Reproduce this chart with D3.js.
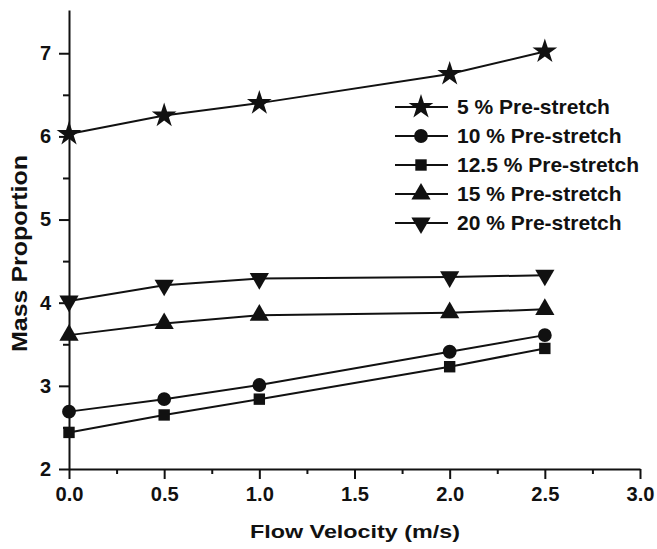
<!DOCTYPE html>
<html>
<head>
<meta charset="utf-8">
<script src="https://cdn.jsdelivr.net/npm/d3@7"></script>
<style>
  body { margin: 0; background: #fff; }
  text { font-family: "Liberation Sans", Arial, sans-serif; font-weight: bold; fill: #111; }
  .axis path, .axis line { stroke: #111; stroke-width: 2; }
</style>
</head>
<body>
<div class="chart"></div>
<script>
// data
var velocity = [0, 0.5, 1.0, 2.0, 2.5];
var pre5 = [6.03, 6.25, 6.40, 6.75, 7.02];
var pre10 = [2.69, 2.84, 3.01, 3.41, 3.61];
var pre125 = [2.44, 2.65, 2.84, 3.23, 3.45];
var pre15 = [3.61, 3.75, 3.85, 3.88, 3.92];
var pre20 = [4.02, 4.21, 4.29, 4.31, 4.33];
var seriesNames = ["5 % Pre-stretch", "10 % Pre-stretch", "12.5 % Pre-stretch", "15 % Pre-stretch", "20 % Pre-stretch"];
var xTicks = [0, 0.5, 1.0, 1.5, 2.0, 2.5, 3.0];
var yTicks = [2, 3, 4, 5, 6, 7];

var svgWidth = 657;
var svgHeight = 549;

var margin = { top: 10, right: 17, bottom: 80, left: 69 };
var width = svgWidth - margin.left - margin.right;
var height = svgHeight - margin.top - margin.bottom;

var svg = d3.select(".chart")
  .append("svg")
  .attr("width", svgWidth)
  .attr("height", svgHeight);

var chartGroup = svg.append("g")
  .attr("transform", `translate(${margin.left}, ${margin.top})`);

var xScale = d3.scaleLinear().domain([0, 3]).range([0, width]);
var yScale = d3.scaleLinear().domain([2, 7.52]).range([height, 0]);

// minor ticks
chartGroup.append("g")
  .attr("class", "axis")
  .attr("transform", `translate(0, ${height})`)
  .call(d3.axisBottom(xScale).tickValues(d3.range(0.25, 3, 0.5)).tickSize(5).tickFormat(""))
  .select(".domain").remove();
chartGroup.append("g")
  .attr("class", "axis")
  .call(d3.axisLeft(yScale).tickValues(d3.range(2.5, 7.5, 1)).tickSize(6).tickFormat(""))
  .select(".domain").remove();

// major axes
var xAxis = chartGroup.append("g")
  .attr("class", "axis")
  .attr("transform", `translate(0, ${height})`)
  .call(d3.axisBottom(xScale).tickValues(xTicks).tickSize(10).tickSizeOuter(0).tickPadding(8).tickFormat(d3.format(".1f")));
xAxis.selectAll("text").style("font-size", "20px").attr("textLength", 28).attr("lengthAdjust", "spacingAndGlyphs");

var yAxis = chartGroup.append("g")
  .attr("class", "axis")
  .call(d3.axisLeft(yScale).tickValues(yTicks).tickSize(10).tickSizeOuter(0).tickPadding(8).tickFormat(d3.format("d")));
yAxis.selectAll("text").style("font-size", "20px");

// series
var allSeries = [pre5, pre10, pre125, pre15, pre20];
var symbols = [
  { type: d3.symbolStar, size: 190, rot: 0 },
  { type: d3.symbolCircle, size: 150, rot: 0 },
  { type: d3.symbolSquare, size: 130, rot: 0 },
  { type: d3.symbolTriangle, size: 160, rot: 0 },
  { type: d3.symbolTriangle, size: 160, rot: 180 }
];

var line = d3.line()
  .x((d, i) => xScale(velocity[i]))
  .y(d => yScale(d));

allSeries.forEach(function (values, k) {
  chartGroup.append("path")
    .attr("d", line(values))
    .attr("fill", "none")
    .attr("stroke", "#111")
    .attr("stroke-width", 2);

  chartGroup.selectAll(".pt" + k)
    .data(values)
    .enter()
    .append("path")
    .attr("d", d3.symbol().type(symbols[k].type).size(symbols[k].size))
    .attr("transform", (d, i) => `translate(${xScale(velocity[i])}, ${yScale(d)}) rotate(${symbols[k].rot})`)
    .attr("fill", "#111");
});

// legend
var legend = svg.append("g").attr("transform", "translate(395, 107)");
seriesNames.forEach(function (name, k) {
  var row = legend.append("g").attr("transform", `translate(0, ${k * 29})`);
  row.append("line")
    .attr("x1", 0).attr("x2", 53)
    .attr("stroke", "#111").attr("stroke-width", 2);
  row.append("path")
    .attr("d", d3.symbol().type(symbols[k].type).size(symbols[k].size))
    .attr("transform", `translate(26, 0) rotate(${symbols[k].rot})`)
    .attr("fill", "#111");
  row.append("text")
    .attr("x", 62)
    .attr("y", 7)
    .style("font-size", "21px")
    .text(name);
});

// axis titles
svg.append("text")
  .attr("x", 250)
  .attr("y", 538)
  .attr("textLength", 210)
  .attr("lengthAdjust", "spacingAndGlyphs")
  .style("font-size", "18px")
  .text("Flow Velocity (m/s)");

svg.append("text")
  .attr("transform", "translate(27, 352) rotate(-90)")
  .attr("textLength", 197)
  .attr("lengthAdjust", "spacingAndGlyphs")
  .style("font-size", "22px")
  .text("Mass Proportion");
</script>
</body>
</html>
